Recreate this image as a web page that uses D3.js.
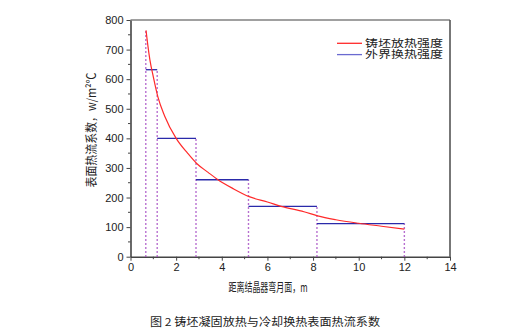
<!DOCTYPE html>
<html>
<head>
<meta charset="utf-8">
<script src="https://cdn.jsdelivr.net/npm/d3@7"></script>
<style>
  html, body { margin: 0; padding: 0; background: #fff; }
  svg { display: block; }
  text { font-family: "Liberation Sans", Arial, sans-serif; fill: #222; }
  .cjk { font-family: "Noto Sans CJK SC", sans-serif; }
</style>
</head>
<body>
<svg id="chart" width="518" height="330"></svg>
<script>
// Casting strand heat release (red curve), sampled along the distance from the meniscus
const releaseX = [0.68, 0.75, 0.85, 1.0, 1.2, 1.5, 2.0, 2.5, 2.9, 3.4, 3.8, 4.5, 5.2, 6.0, 6.6, 7.6, 8.2, 9.0, 10.0, 11.0, 12.0];
const releaseY = [765, 720, 665, 608, 540, 475, 400, 350, 315, 285, 262, 230, 203, 185, 170, 152, 138, 125, 113, 103, 93];

// Cooling-zone heat exchange (blue steps): zone boundaries and zone levels
const zoneEdges = [0.67, 1.17, 2.87, 5.17, 8.17, 12.0];
const zoneLevels = [632, 400, 260, 170, 112];

// Axis ticks
const xTicks = [0, 2, 4, 6, 8, 10, 12, 14];
const yTicks = [0, 100, 200, 300, 400, 500, 600, 700, 800];

const legendLabels = ["铸坯放热强度", "外界换热强度"];
const xTitle = "距离结晶器弯月面，m";
const yTitle = "表面热流系数，w/m²℃";
const caption = "图 2  铸坯凝固放热与冷却换热表面热流系数";

const svg = d3.select("#chart");
const plot = { left: 130.5, right: 450, top: 20, bottom: 256.7 };

const x = d3.scaleLinear().domain([0, 14]).range([plot.left, plot.right]);
const y = d3.scaleLinear().domain([0, 800]).range([plot.bottom, plot.top]);

// Frame (top and right)
svg.append("line").attr("x1", plot.left).attr("x2", plot.right)
  .attr("y1", plot.top).attr("y2", plot.top)
  .attr("stroke", "#808080").attr("stroke-width", 1.6);
svg.append("line").attr("x1", plot.right).attr("x2", plot.right)
  .attr("y1", plot.top).attr("y2", plot.bottom)
  .attr("stroke", "#555").attr("stroke-width", 1.6);

// Minor ticks
const xMinor = d3.range(1, 14, 2);
const yMinor = d3.range(50, 800, 100);
svg.append("g").selectAll("line").data(xMinor).join("line")
  .attr("x1", d => x(d)).attr("x2", d => x(d))
  .attr("y1", plot.bottom).attr("y2", plot.bottom + 2.5)
  .attr("stroke", "#444").attr("stroke-width", 1);
svg.append("g").selectAll("line").data(yMinor).join("line")
  .attr("x1", plot.left - 2.5).attr("x2", plot.left)
  .attr("y1", d => y(d)).attr("y2", d => y(d))
  .attr("stroke", "#444").attr("stroke-width", 1);

// Axes
const xAxis = svg.append("g").attr("transform", `translate(0,${plot.bottom})`)
  .call(d3.axisBottom(x).tickValues(xTicks).tickSize(4).tickPadding(3).tickSizeOuter(0));
const yAxis = svg.append("g").attr("transform", `translate(${plot.left},0)`)
  .call(d3.axisLeft(y).tickValues(yTicks).tickSize(4).tickPadding(3).tickSizeOuter(0));
[xAxis, yAxis].forEach(a => {
  a.select(".domain").attr("stroke", "#444").attr("stroke-width", 1.6);
  a.selectAll(".tick line").attr("stroke", "#444").attr("stroke-width", 1);
  a.selectAll(".tick text").attr("font-size", 11)
    .attr("font-family", "'Liberation Sans', Arial, sans-serif").attr("fill", "#222");
});

// Dotted zone boundaries
const dotTops = zoneEdges.map((e, i) =>
  i === 0 ? releaseY[0] : Math.max(zoneLevels[i - 1], zoneLevels[i] || 0));
svg.append("g").selectAll("line").data(zoneEdges).join("line")
  .attr("x1", d => x(d)).attr("x2", d => x(d))
  .attr("y1", y(0)).attr("y2", (d, i) => y(dotTops[i]))
  .attr("stroke", "#a040c0").attr("stroke-width", 1.4)
  .attr("stroke-dasharray", "1.5,2.5");

// Cooling zone steps
svg.append("g").selectAll("line").data(zoneLevels).join("line")
  .attr("x1", (d, i) => x(zoneEdges[i])).attr("x2", (d, i) => x(zoneEdges[i + 1]))
  .attr("y1", d => y(d)).attr("y2", d => y(d))
  .attr("stroke", "#2a2aaa").attr("stroke-width", 1.3);

// Heat release curve
const line = d3.line().x(d => x(d[0])).y(d => y(d[1])).curve(d3.curveMonotoneX);
svg.append("path").datum(releaseX.map((v, i) => [v, releaseY[i]]))
  .attr("d", line).attr("fill", "none")
  .attr("stroke", "#ff2a2a").attr("stroke-width", 1.2);

// Legend
const legend = svg.append("g");
const legendColors = ["#ff2a2a", "#6a6ad0"];
legendLabels.forEach((label, i) => {
  const ly = 43.3 + i * 11.3;
  legend.append("line").attr("x1", 337).attr("x2", 362).attr("y1", ly).attr("y2", ly)
    .attr("stroke", legendColors[i]).attr("stroke-width", 1.3);
  legend.append("text").attr("class", "cjk").attr("x", 365).attr("y", ly)
    .attr("dy", "0.36em").attr("font-size", 10.5)
    .attr("textLength", 78).attr("lengthAdjust", "spacingAndGlyphs")
    .text(label);
});

// Axis titles
svg.append("text").attr("class", "cjk")
  .attr("x", 268).attr("y", 292).attr("text-anchor", "middle")
  .attr("font-size", 12.5).attr("textLength", 79).attr("lengthAdjust", "spacingAndGlyphs")
  .text(xTitle);
svg.append("text").attr("class", "cjk")
  .attr("transform", "translate(92,130) rotate(-90)")
  .attr("text-anchor", "middle").attr("dy", "0.36em")
  .attr("font-size", 12).attr("textLength", 115).attr("lengthAdjust", "spacingAndGlyphs")
  .text(yTitle);

// Caption
svg.append("text").attr("class", "cjk")
  .attr("x", 150).attr("y", 326)
  .attr("font-size", 11).attr("textLength", 230).attr("lengthAdjust", "spacingAndGlyphs")
  .text(caption);
</script>
</body>
</html>
